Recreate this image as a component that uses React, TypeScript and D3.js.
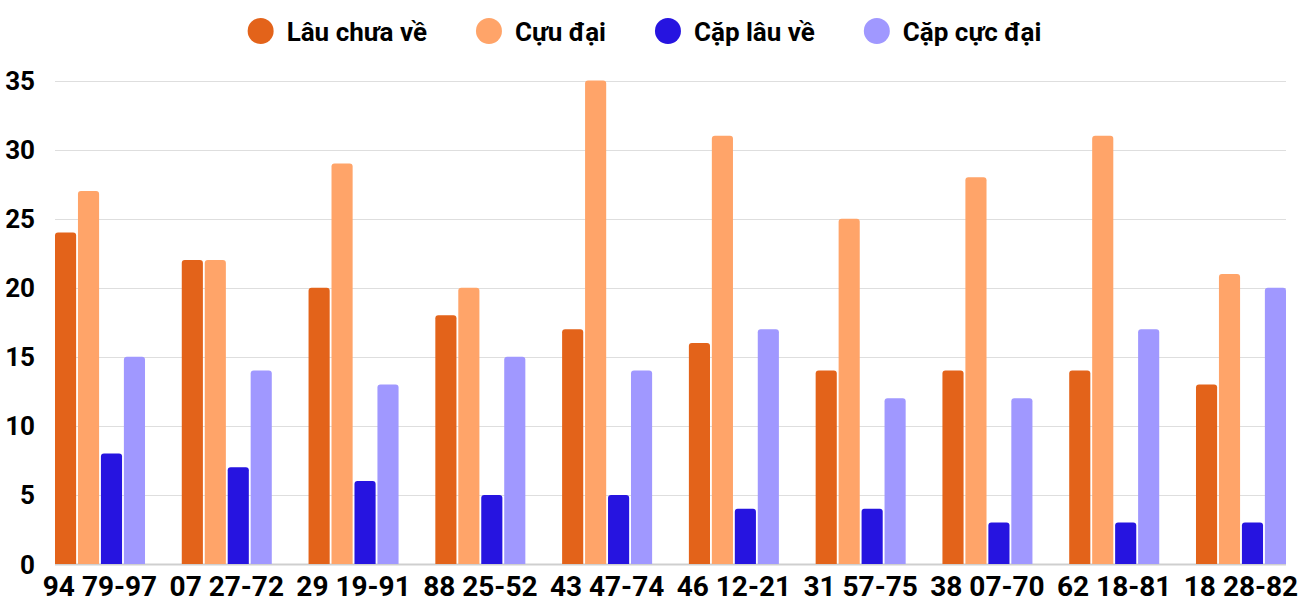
import React, { useEffect, useRef } from 'react'
import * as d3 from 'd3'

const categories = ['94 79-97', '07 27-72', '29 19-91', '88 25-52', '43 47-74', '46 12-21', '31 57-75', '38 07-70', '62 18-81', '18 28-82']
const seriesNames = ['Lâu chưa về', 'Cựu đại', 'Cặp lâu về', 'Cặp cực đại']
const lauChuaVe = [24, 22, 20, 18, 17, 16, 14, 14, 14, 13]
const cucDai = [27, 22, 29, 20, 35, 31, 25, 28, 31, 21]
const capLauVe = [8, 7, 6, 5, 5, 4, 4, 3, 3, 3]
const capCucDai = [15, 14, 13, 15, 14, 17, 12, 12, 17, 20]
const yTicks = [0, 5, 10, 15, 20, 25, 30, 35]

const colors = ['#E3631A', '#FFA469', '#2614E0', '#A098FF']
const FONT = 'Roboto, "Noto Sans", sans-serif'

// bar with rounded top corners only
function barPath(x: number, y: number, w: number, h: number, r: number) {
  const rr = Math.min(r, h, w / 2)
  return `M${x},${y + h}V${y + rr}Q${x},${y} ${x + rr},${y}H${x + w - rr}Q${x + w},${y} ${x + w},${y + rr}V${y + h}Z`
}

export default function App() {
  const ref = useRef<SVGSVGElement>(null)

  useEffect(() => {
    const svg = d3.select(ref.current)
    svg.selectAll('*').remove()

    const x0 = d3.scaleBand().domain(categories).range([55, 1286]).paddingInner(0.29).paddingOuter(0)
    const x1 = d3.scaleBand().domain(seriesNames).range([0, x0.bandwidth()]).paddingInner(0.08)
    const y = d3.scaleLinear().domain([0, 35]).range([564, 80.5])

    const series = [lauChuaVe, cucDai, capLauVe, capCucDai]

    // grid lines
    svg.append('g')
      .selectAll('line')
      .data(yTicks)
      .enter()
      .append('line')
      .attr('x1', 55)
      .attr('x2', 1286)
      .attr('y1', d => Math.round(y(d)) + 0.5)
      .attr('y2', d => Math.round(y(d)) + 0.5)
      .attr('stroke', d => (d === 0 ? '#cfcfcf' : '#dedede'))
      .attr('stroke-width', d => (d === 0 ? 2 : 1))

    // y tick labels
    svg.append('g')
      .selectAll('text')
      .data(yTicks)
      .enter()
      .append('text')
      .attr('x', 35)
      .attr('y', d => y(d) + 9.5)
      .attr('text-anchor', 'end')
      .attr('font-family', FONT)
      .attr('font-weight', 700)
      .attr('font-size', 26)
      .attr('fill', '#000')
      .text(d => d)

    // bars
    const groups = svg.append('g')
      .selectAll('g')
      .data(categories)
      .enter()
      .append('g')
      .attr('transform', d => `translate(${x0(d)},0)`)

    groups.selectAll('path')
      .data((_, i) => series.map((s, k) => ({ name: seriesNames[k], value: s[i], k })))
      .enter()
      .append('path')
      .attr('d', d => barPath(x1(d.name)!, y(d.value), x1.bandwidth(), y(0) - y(d.value), 3))
      .attr('fill', d => colors[d.k])

    // category labels
    svg.append('g')
      .selectAll('text')
      .data(categories)
      .enter()
      .append('text')
      .attr('x', d => x0(d)! + x0.bandwidth() / 2)
      .attr('y', 596)
      .attr('text-anchor', 'middle')
      .attr('font-family', FONT)
      .attr('font-weight', 700)
      .attr('font-size', 28)
      .attr('fill', '#000')
      .text(d => d)

    // legend, centred above the plot
    const gap = 49
    const legend = svg.append('g')
    let offset = 0
    seriesNames.forEach((name, i) => {
      const item = legend.append('g').attr('transform', `translate(${offset},0)`)
      item.append('circle').attr('cx', 13).attr('cy', 31).attr('r', 13).attr('fill', colors[i])
      const t = item.append('text')
        .attr('x', 39)
        .attr('y', 41)
        .attr('font-family', FONT)
        .attr('font-weight', 700)
        .attr('font-size', 26)
        .attr('fill', '#000')
        .text(name)
      const w = (t.node() as SVGTextElement).getComputedTextLength()
      offset += 39 + w + gap
    })
    const total = offset - gap
    legend.attr('transform', `translate(${644.5 - total / 2},0)`)
  }, [])

  return (
    <svg ref={ref} width={1300} height={600} style={{ position: 'absolute', left: 0, top: 0, background: '#fff' }} />
  )
}
